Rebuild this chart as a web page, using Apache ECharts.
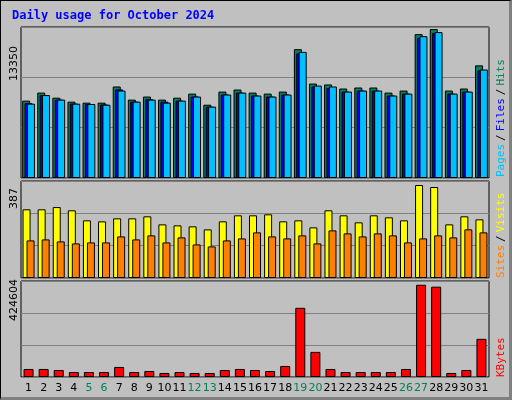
<!DOCTYPE html>
<html><head><meta charset="utf-8">
<script src="https://cdn.jsdelivr.net/npm/echarts@6/dist/echarts.min.js"></script>
<style>html,body{margin:0;padding:0;background:#c0c0c0}#c{width:512px;height:400px;box-sizing:border-box;border:1px solid #000;border-right:3px solid #808080;border-bottom:3px solid #808080}</style>
</head><body><div id="c"></div>
<script>
const days = ['1','2','3','4','5','6','7','8','9','10','11','12','13','14','15','16','17','18','19','20','21','22','23','24','25','26','27','28','29','30','31'];
const weekend = ['5','6','12','13','19','20','26','27'];
const hits  = [6840,7550,7100,6750,6660,6660,8090,6930,7200,6930,7100,7460,6480,7640,7820,7550,7460,7640,11390,8350,8270,7910,8000,8000,7550,7730,12720,13170,7730,7910,9960];
const files = [6620,7330,6930,6580,6540,6500,7830,6750,6960,6750,6840,7200,6310,7380,7550,7290,7200,7380,11020,8090,7950,7640,7730,7730,7290,7460,12380,12830,7460,7640,9510];
const pages = [6570,7330,6930,6570,6540,6480,7730,6750,6930,6660,6840,7200,6310,7380,7550,7290,7200,7380,11150,8170,8090,7640,7730,7730,7290,7460,12540,12900,7460,7640,9590];
const visits = [274,274,283,270,230,226,238,238,246,214,210,206,194,226,250,250,254,226,230,202,270,250,222,250,242,230,371,363,214,246,234];
const sites  = [150,154,146,138,142,142,166,154,170,142,162,134,126,150,158,182,166,158,170,138,190,178,166,178,170,142,158,170,162,194,182];
const kbytes = [35500,35500,31000,22000,22000,22000,44400,22000,26600,17800,22000,17800,17800,31000,35500,31000,26600,48800,306000,111000,35500,22000,22000,22000,22000,35500,408000,399500,17800,31000,168700];
const maxHits = 13350, maxVisits = 387, maxKB = 424604;

const ch = echarts.init(document.getElementById('c'));
const mono = 'DejaVu Sans Mono';
const grids = [
  {left:20,right:20,top:26,height:151},
  {left:20,right:20,top:180,height:97},
  {left:20,right:20,top:280,height:96}
];
const maxes=[maxHits,maxVisits,maxKB];
const bs = {borderColor:'#000',borderWidth:1};
ch.setOption({
  animation:false,
  title:{text:'Daily usage for October 2024',left:6,top:4,textStyle:{fontFamily:mono,fontSize:12,fontWeight:'bold',color:'#0000ff'}},
  grid:grids.map(g=>Object.assign({show:true,borderColor:'#000',borderWidth:1,backgroundColor:'#c0c0c0'},g)),
  xAxis:[0,1,2].map(i=>({type:'category',gridIndex:i,data:days,axisLine:{show:false},axisTick:{show:false},
    axisLabel:{show:i===2,margin:6,fontFamily:'DejaVu Sans',fontSize:11,interval:0,
      formatter:v=>weekend.includes(v)?'{w|'+v+'}':v,color:'#000',rich:{w:{color:'#00805c',fontFamily:'DejaVu Sans',fontSize:11}}}})),
  yAxis:[0,1,2].map(i=>({type:'value',gridIndex:i,min:0,max:maxes[i],interval:maxes[i]/3,axisLabel:{show:false},axisLine:{show:false},axisTick:{show:false},
    splitLine:{lineStyle:{color:'#808080',width:1}}})),
  series:[
    {type:'bar',xAxisIndex:0,yAxisIndex:0,data:hits,barWidth:8,barGap:'-70%',itemStyle:Object.assign({color:'#00805c'},bs)},
    {type:'bar',xAxisIndex:0,yAxisIndex:0,data:files,barWidth:8,barGap:'-70%',itemStyle:Object.assign({color:'#0000ff'},bs)},
    {type:'bar',xAxisIndex:0,yAxisIndex:0,data:pages,barWidth:8,barGap:'-70%',itemStyle:Object.assign({color:'#00c0ff'},bs)},
    {type:'bar',xAxisIndex:1,yAxisIndex:1,data:visits,barWidth:8,barGap:'-50%',itemStyle:Object.assign({color:'#ffff00'},bs)},
    {type:'bar',xAxisIndex:1,yAxisIndex:1,data:sites,barWidth:8,barGap:'-50%',itemStyle:Object.assign({color:'#ff8000'},bs)},
    {type:'bar',xAxisIndex:2,yAxisIndex:2,data:kbytes,barWidth:10,itemStyle:Object.assign({color:'#ff0000'},bs)}
  ],
  graphic:[
    {type:'text',x:8,y:80,rotation:Math.PI/2,style:{text:String(maxHits),font:'11px DejaVu Sans',fill:'#000',align:'left',verticalAlign:'top'}},
    {type:'text',x:8,y:208,rotation:Math.PI/2,style:{text:String(maxVisits),font:'11px DejaVu Sans',fill:'#000',align:'left',verticalAlign:'top'}},
    {type:'text',x:8,y:320,rotation:Math.PI/2,style:{text:String(maxKB),font:'11px DejaVu Sans',fill:'#000',align:'left',verticalAlign:'top'}},
    {type:'text',x:495,y:176,rotation:Math.PI/2,style:{text:'{p|Pages}{s|/}{f|Files}{s|/}{h|Hits}',font:'11px '+mono,align:'left',verticalAlign:'top',
      rich:{p:{fill:'#00c0ff',font:'11px '+mono},f:{fill:'#0000ff',font:'11px '+mono},h:{fill:'#00805c',font:'11px '+mono},s:{fill:'#000',font:'11px '+mono,padding:[0,3]}}}},
    {type:'text',x:495,y:277,rotation:Math.PI/2,style:{text:'{o|Sites}{s|/}{y|Visits}',font:'11px '+mono,align:'left',verticalAlign:'top',
      rich:{o:{fill:'#ff8000',font:'11px '+mono},y:{fill:'#ffff00',font:'11px '+mono},s:{fill:'#000',font:'11px '+mono,padding:[0,3]}}}},
    {type:'text',x:495,y:376,rotation:Math.PI/2,style:{text:'KBytes',font:'11px '+mono,fill:'#ff0000',align:'left',verticalAlign:'top'}}
  ]
});
</script></body></html>
